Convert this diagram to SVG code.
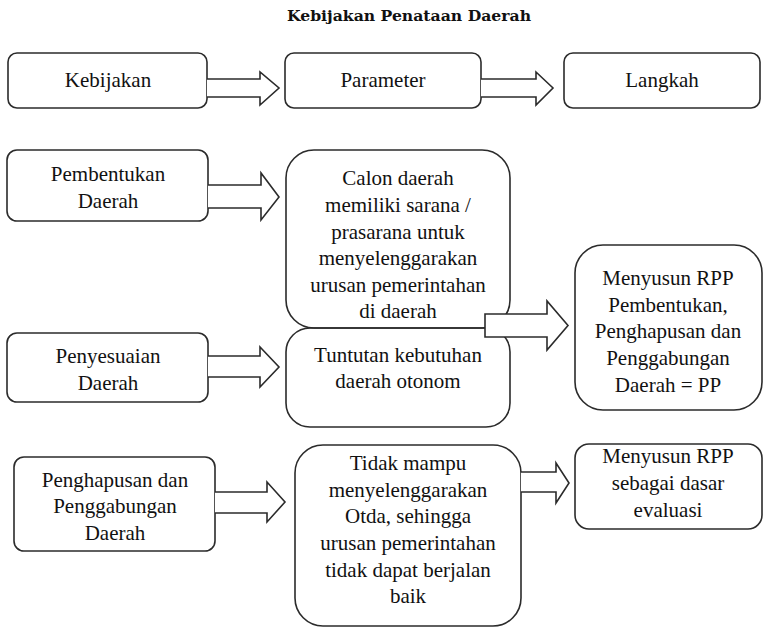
<svg xmlns="http://www.w3.org/2000/svg" width="768" height="627" viewBox="0 0 768 627">
  <style>
    .box { fill: none; stroke: #2b2b2b; stroke-width: 1.6; }
    .arrow { fill: #ffffff; stroke: #2b2b2b; stroke-width: 1.6; stroke-linejoin: miter; }
    .lbl { font-family: "Liberation Serif", "Times New Roman", serif; font-size: 21px; fill: #111111; text-anchor: middle; }
    .title { font-family: "DejaVu Serif", "Liberation Serif", serif; font-weight: bold; font-size: 15px; fill: #111111; text-anchor: middle; }
  </style>
  <rect width="768" height="627" fill="#ffffff"/>

  <text class="title" x="409" y="21" textLength="244" lengthAdjust="spacingAndGlyphs">Kebijakan Penataan Daerah</text>

  <!-- header row -->
  <g id="kebijakan">
    <rect class="box" x="8" y="53" width="199" height="55" rx="9"/>
    <text class="lbl" x="108" y="87">Kebijakan</text>
  </g>
  <g id="parameter">
    <rect class="box" x="285" y="53" width="196" height="55" rx="9"/>
    <text class="lbl" x="383" y="87">Parameter</text>
  </g>
  <g id="langkah">
    <rect class="box" x="564" y="53" width="196" height="55" rx="9"/>
    <text class="lbl" x="662" y="87">Langkah</text>
  </g>

  <!-- left column -->
  <g id="pembentukan">
    <rect class="box" x="7" y="150" width="201" height="71" rx="10"/>
    <text class="lbl" x="108" y="181">Pembentukan</text>
    <text class="lbl" x="108" y="208">Daerah</text>
  </g>
  <g id="penyesuaian">
    <rect class="box" x="7" y="333" width="201" height="69" rx="10"/>
    <text class="lbl" x="108" y="363">Penyesuaian</text>
    <text class="lbl" x="108" y="390">Daerah</text>
  </g>
  <g id="penghapusan">
    <rect class="box" x="14" y="457" width="201" height="94" rx="10"/>
    <text class="lbl" x="115" y="487">Penghapusan dan</text>
    <text class="lbl" x="115" y="513">Penggabungan</text>
    <text class="lbl" x="115" y="540">Daerah</text>
  </g>

  <!-- middle column -->
  <g id="calon">
    <rect class="box" x="286" y="150" width="224" height="178" rx="28"/>
    <text class="lbl" x="398" y="185">Calon daerah</text>
    <text class="lbl" x="398" y="212">memiliki sarana /</text>
    <text class="lbl" x="398" y="239">prasarana untuk</text>
    <text class="lbl" x="398" y="265">menyelenggarakan</text>
    <text class="lbl" x="398" y="292">urusan pemerintahan</text>
    <text class="lbl" x="398" y="318">di daerah</text>
  </g>
  <g id="tuntutan">
    <rect class="box" x="286" y="328" width="224" height="99" rx="24"/>
    <text class="lbl" x="398" y="362">Tuntutan kebutuhan</text>
    <text class="lbl" x="398" y="388">daerah otonom</text>
  </g>
  <g id="tidak-mampu">
    <rect class="box" x="295" y="445" width="226" height="181" rx="28"/>
    <text class="lbl" x="408" y="470">Tidak mampu</text>
    <text class="lbl" x="408" y="497">menyelenggarakan</text>
    <text class="lbl" x="408" y="523">Otda, sehingga</text>
    <text class="lbl" x="408" y="550">urusan pemerintahan</text>
    <text class="lbl" x="408" y="577">tidak dapat berjalan</text>
    <text class="lbl" x="408" y="603">baik</text>
  </g>

  <!-- right column -->
  <g id="rpp-pp">
    <rect class="box" x="575" y="245" width="187" height="165" rx="28"/>
    <text class="lbl" x="668" y="285">Menyusun RPP</text>
    <text class="lbl" x="668" y="312">Pembentukan,</text>
    <text class="lbl" x="668" y="338">Penghapusan dan</text>
    <text class="lbl" x="668" y="365">Penggabungan</text>
    <text class="lbl" x="668" y="392">Daerah = PP</text>
  </g>
  <g id="rpp-evaluasi">
    <rect class="box" x="575" y="444" width="187" height="85" rx="14"/>
    <text class="lbl" x="668" y="463">Menyusun RPP</text>
    <text class="lbl" x="668" y="490">sebagai dasar</text>
    <text class="lbl" x="668" y="517">evaluasi</text>
  </g>

  <!-- block arrows -->
  <g id="connectors">
    <path class="arrow" d="M207,79 H260 V72 L279,88 L260,105 V97 H207"/>
    <path class="arrow" d="M481,79 H536 V72 L553,88 L536,105 V97 H481"/>
    <path class="arrow" d="M208,185 H261 V173 L279,197 L261,220 V208 H208"/>
    <path class="arrow" d="M208,356 H260 V347 L279,367 L260,387 V377 H208"/>
    <path class="arrow" d="M485,314 H547 V301 L568,325.5 L547,350 V337 H485 Z"/>
    <path class="arrow" d="M215,492 H267 V482 L285,502 L267,522 V513 H215"/>
    <path class="arrow" d="M521,472 H556 V463 L569,483 L556,503 V492 H521"/>
  </g>
</svg>
